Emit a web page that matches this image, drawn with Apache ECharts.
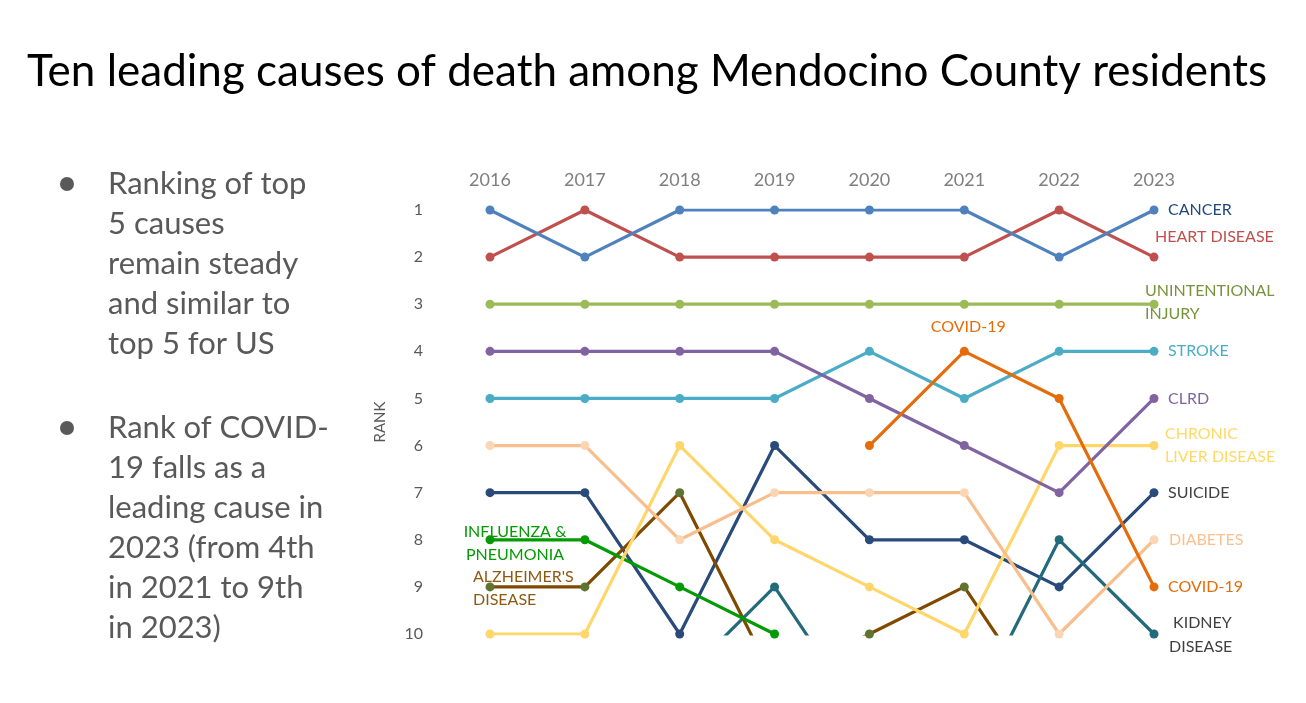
<!DOCTYPE html>
<html>
<head>
<meta charset="utf-8">
<script src="https://cdn.jsdelivr.net/npm/echarts@6/dist/echarts.min.js"></script>
<style>
  html, body { margin: 0; padding: 0; background: #fff; }
  #chart { width: 1306px; height: 703px; }
</style>
</head>
<body>
<div id="chart"></div>
<script>
// years on the top axis
var years = ['2016', '2017', '2018', '2019', '2020', '2021', '2022', '2023']
var rankTicks = [1, 2, 3, 4, 5, 6, 7, 8, 9, 10]

// ranks per cause (values above 10 fall off the chart, '-' = not ranked)
var cancer    = [1, 2, 1, 1, 1, 1, 2, 1]
var heart     = [2, 1, 2, 2, 2, 2, 1, 2]
var injury    = [3, 3, 3, 3, 3, 3, 3, 3]
var clrd      = [4, 4, 4, 4, 5, 6, 7, 5]
var stroke    = [5, 5, 5, 5, 4, 5, 4, 4]
var diabetes  = [6, 6, 8, 7, 7, 7, 10, 8]
var liver     = [10, 10, 6, 8, 9, 10, 6, 6]
var suicide   = [7, 7, 10, 6, 8, 8, 9, 7]
var influenza = [8, 8, 9, 10, '-', '-', '-', '-']
var alzheimer = [9, 9, 7, 11, 10, 9, 12, 12]
var kidney    = [12, 12, 11, 9, 12, 12, 8, 10]
var covid     = ['-', '-', '-', '-', 6, 4, 5, 9]

var FONT = 'Lato'

var chart = echarts.init(document.getElementById('chart'))

// build the series, with a label hung on one chosen point
function makeSeries(name, values, color, opts) {
    opts = opts || {}
    var data = []
    for (var i = 0; i < values.length; i++) {
        var item = { value: values[i] }
        if (opts.labels && opts.labels[i]) {
            var l = opts.labels[i]
            item.label = {
                show: true,
                position: 'inside',
                formatter: l.text,
                align: l.align || 'left',
                offset: l.offset,
                color: l.color || color,
                fontFamily: FONT,
                fontSize: 16,
                lineHeight: l.lineHeight || 20
            }
        }
        data.push(item)
    }
    return {
        name: name,
        type: 'line',
        data: data,
        symbol: 'circle',
        symbolSize: 9,
        connectNulls: false,
        lineStyle: { width: 3.2, color: opts.lineColor || color },
        itemStyle: { color: opts.markerColor || color },
        label: { show: false },
        emphasis: { disabled: true },
        animation: false
    }
}

var series = [
    makeSeries('Suicide', suicide, '#2A4B7A', {
        labels: { 7: { text: 'SUICIDE', offset: [14, 0], color: '#404040' } }
    }),
    makeSeries('Kidney disease', kidney, '#236A7A', {
        labels: { 7: { text: ' KIDNEY\nDISEASE', offset: [15, 1], color: '#404040', lineHeight: 24 } }
    }),
    makeSeries('Alzheimer\'s disease', alzheimer, '#8B5000', {
        lineColor: '#7F4A00', markerColor: '#5E7430',
        labels: { 0: { text: 'ALZHEIMER\'S\nDISEASE', offset: [-17, 1], color: '#8E5A12', lineHeight: 23 } }
    }),
    makeSeries('Influenza & pneumonia', influenza, '#039A03', {
        labels: { 0: { text: 'INFLUENZA &\nPNEUMONIA', align: 'center', offset: [25, 4], lineHeight: 23 } }
    }),
    makeSeries('Chronic liver disease', liver, '#FFD66B', {
        labels: { 7: { text: 'CHRONIC\nLIVER DISEASE', offset: [11, 0], color: '#FFD966', lineHeight: 23 } }
    }),
    makeSeries('Diabetes', diabetes, '#F9BE8E', {
        markerColor: '#FCD5B5',
        labels: { 7: { text: 'DIABETES', offset: [15, 0], color: '#FAC090' } }
    }),
    makeSeries('Stroke', stroke, '#4BACC6', {
        labels: { 7: { text: 'STROKE', offset: [14, 0] } }
    }),
    makeSeries('CLRD', clrd, '#8064A2', {
        labels: { 7: { text: 'CLRD', offset: [14, 0] } }
    }),
    makeSeries('COVID-19', covid, '#E46C0A', {
        labels: {
            5: { text: 'COVID-19', align: 'center', offset: [4, -24] },
            7: { text: 'COVID-19', offset: [14, 0] }
        }
    }),
    makeSeries('Unintentional injury', injury, '#9BBB59', {
        labels: { 7: { text: 'UNINTENTIONAL\nINJURY', offset: [-9, -2], color: '#77933C', lineHeight: 23 } }
    }),
    makeSeries('Heart disease', heart, '#C0504D', {
        labels: { 7: { text: 'HEART DISEASE', offset: [1, -20] } }
    }),
    makeSeries('Cancer', cancer, '#4F81BD', {
        labels: { 7: { text: 'CANCER', offset: [14, 0], color: '#1F497D' } }
    })
]

var option = {
    backgroundColor: '#ffffff',
    title: {
        text: 'Ten leading causes of death among Mendocino County residents',
        left: 22,
        top: 45,
        textStyle: { fontFamily: FONT, fontSize: 44, fontWeight: 'normal', color: '#000000' }
    },
    grid: { left: 490, right: 152, top: 210, bottom: 69, containLabel: false },
    xAxis: {
        type: 'category',
        position: 'top',
        data: years,
        boundaryGap: false,
        axisLine: { show: false },
        axisTick: { show: false },
        splitLine: { show: false },
        axisLabel: { color: '#7F7F7F', fontFamily: FONT, fontSize: 18, margin: 21 }
    },
    yAxis: {
        type: 'value',
        inverse: true,
        min: 1,
        max: 10,
        interval: 1,
        name: 'RANK',
        nameLocation: 'middle',
        nameRotate: 90,
        nameGap: 102,
        nameTextStyle: { color: '#595959', fontFamily: FONT, fontSize: 15 },
        axisLine: { show: false },
        axisTick: { show: false },
        splitLine: { show: false },
        axisLabel: {
            color: '#595959', fontFamily: FONT, fontSize: 16, margin: 67,
            formatter: function (v) { return rankTicks.indexOf(v) >= 0 ? String(v) : '' }
        }
    },
    graphic: [
        { type: 'circle', shape: { cx: 67, cy: 184, r: 7 }, style: { fill: '#595959' } },
        { type: 'circle', shape: { cx: 67, cy: 428, r: 7 }, style: { fill: '#595959' } },
        {
            type: 'text', left: 108, top: 164,
            style: {
                text: 'Ranking of top\n5 causes\nremain steady\nand similar to\ntop 5 for US',
                fill: '#595959', font: '31px ' + FONT, lineHeight: 40
            }
        },
        {
            type: 'text', left: 108, top: 408,
            style: {
                text: 'Rank of COVID-\n19 falls as a\nleading cause in\n2023 (from 4th\nin 2021 to 9th\nin 2023)',
                fill: '#595959', font: '31px ' + FONT, lineHeight: 40
            }
        }
    ],
    series: series
}

chart.setOption(option)
</script>
</body>
</html>
